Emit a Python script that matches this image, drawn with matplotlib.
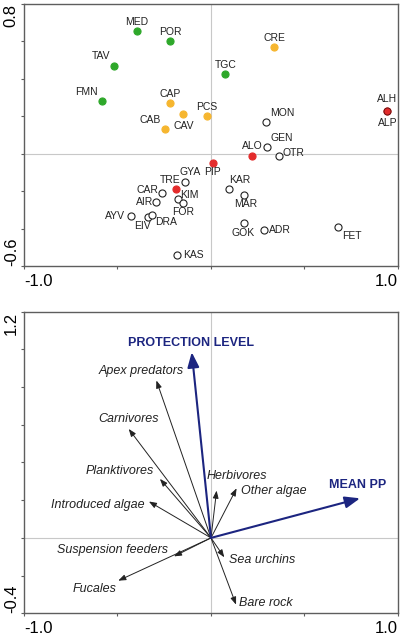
import matplotlib
matplotlib.use("Agg")
import matplotlib.pyplot as plt

plt.rcParams['font.family'] = ['Liberation Sans', 'DejaVu Sans']

# --- top panel: site scores ---
sites = ['MED', 'POR', 'TAV', 'FMN', 'TGC', 'CRE', 'CAP', 'CAV', 'PCS', 'CAB',
         'ALH', 'MON', 'GEN', 'ALO', 'OTR', 'PIP', 'GYA', 'TRE', 'CAR', 'KIM',
         'AIR', 'FOR', 'AYV', 'EIV', 'DRA', 'KAR', 'MAR', 'GOK', 'ADR', 'FET', 'KAS']
site_x = [-0.397, -0.219, -0.520, -0.585, 0.077, 0.337, -0.219, -0.151, -0.020, -0.248,
          0.943, 0.294, 0.299, 0.219, 0.365, 0.009, -0.137, -0.186, -0.260, -0.178,
          -0.292, -0.150, -0.426, -0.335, -0.314, 0.095, 0.176, 0.176, 0.282, 0.677, -0.180]
site_y = [0.658, 0.603, 0.471, 0.282, 0.426, 0.571, 0.271, 0.214, 0.203, 0.132,
          0.228, 0.170, 0.036, -0.011, -0.011, -0.052, -0.151, -0.189, -0.208, -0.242,
          -0.256, -0.262, -0.335, -0.337, -0.328, -0.187, -0.221, -0.371, -0.410, -0.390, -0.542]
site_group = ['g', 'g', 'g', 'g', 'g', 'o', 'o', 'o', 'o', 'o',
              'r', 'w', 'w', 'r', 'w', 'r', 'w', 'r', 'w', 'w',
              'w', 'w', 'w', 'w', 'w', 'w', 'w', 'w', 'w', 'w', 'w']

# --- bottom panel: variable vectors ---
species = ['Apex predators', 'Carnivores', 'Planktivores', 'Introduced algae', 'Herbivores',
           'Other algae', 'Suspension feeders', 'Fucales', 'Sea urchins', 'Bare rock']
species_x = [-0.292, -0.440, -0.273, -0.332, 0.030, 0.137, -0.198, -0.496, 0.071, 0.134]
species_y = [0.835, 0.578, 0.313, 0.193, 0.251, 0.263, -0.098, -0.227, -0.103, -0.354]
env = ['PROTECTION LEVEL', 'MEAN PP']
env_x = [-0.103, 0.797]
env_y = [0.985, 0.210]

# styling / label placement (offsets in pixels)
group_style = {
    'g': dict(facecolor='#2ea82a', edgecolor='#2ea82a'),
    'o': dict(facecolor='#f6b62f', edgecolor='#f6b62f'),
    'r': dict(facecolor='#e32b2b', edgecolor='#e32b2b'),
    'w': dict(facecolor='white', edgecolor='#222222'),
}
site_offsets = {
    'MED': (0, 9), 'POR': (0, 9), 'TAV': (-13, 10), 'FMN': (-15, 9), 'TGC': (0, 9),
    'CRE': (0, 9), 'CAP': (0, 9), 'CAV': (1, -12), 'PCS': (0, 9), 'CAB': (-14, 9),
    'ALH': (0, 12), 'MON': (16, 9), 'GEN': (15, 9), 'ALO': (0, 10), 'OTR': (14, 3),
    'PIP': (0, -9), 'GYA': (5, 10), 'TRE': (-6, 9), 'CAR': (-15, 3), 'KIM': (12, 4),
    'AIR': (-12, 0), 'FOR': (0, -9), 'AYV': (-16, 0), 'EIV': (-6, -9), 'DRA': (14, -7),
    'KAR': (11, 9), 'MAR': (2, -9), 'GOK': (-1, -10), 'ADR': (16, 0), 'FET': (14, -9),
    'KAS': (16, 0),
}
species_offsets = {
    'Apex predators': (-15, 10, 'center'), 'Carnivores': (0, 10, 'center'),
    'Planktivores': (-6, 8, 'right'), 'Introduced algae': (-4, -3, 'right'),
    'Herbivores': (-10, 15, 'left'), 'Other algae': (4, -3, 'left'),
    'Suspension feeders': (-6, 6, 'right'), 'Fucales': (-2, -8, 'right'),
    'Sea urchins': (5, -3, 'left'), 'Bare rock': (3, 2, 'left'),
}
env_offsets = {'PROTECTION LEVEL': (-1, 9), 'MEAN PP': (-2, 13)}
navy = '#1c2580'
spine_col = '#5e5e5e'


def style_axes(ax, ylim, yticks, ylabels):
    ax.set_xlim(-1.0, 1.0)
    ax.set_ylim(*ylim)
    ax.axhline(0, color='#c8c8c8', lw=0.8, zorder=0)
    ax.axvline(0, color='#c8c8c8', lw=0.8, zorder=0)
    for sp in ax.spines.values():
        sp.set_color(spine_col)
        sp.set_linewidth(1.0)
    ax.set_xticks([-1.0, -0.5, 0.0, 0.5, 1.0])
    ax.set_xticklabels(['-1.0', '', '', '', '1.0'])
    ax.set_yticks(yticks)
    ax.set_yticklabels(ylabels)
    ax.tick_params(length=2.5, width=0.8, color=spine_col, labelsize=12, pad=3)
    ax.tick_params(axis='y', pad=1.2)
    xl = ax.get_xticklabels()
    xl[0].set_ha('left')
    xl[-1].set_ha('right')
    yl = ax.get_yticklabels()
    for t in yl:
        t.set_rotation(90)
    yl[0].set_va('bottom')
    yl[-1].set_va('top')


fig = plt.figure(figsize=(4.04, 6.36), dpi=100)
ax1 = fig.add_axes([0.0594, 0.5818, 0.9257, 0.412])
ax2 = fig.add_axes([0.0594, 0.0357, 0.9257, 0.4742])

# top panel
for name, x, y, g in zip(sites, site_x, site_y, site_group):
    st = group_style[g]
    ax1.scatter([x], [y], s=26, facecolor=st['facecolor'], edgecolor=st['edgecolor'],
                linewidths=0.8, zorder=3)
    dx, dy = site_offsets[name]
    ax1.annotate(name, (x, y), xytext=(dx, dy), textcoords='offset pixels',
                 ha='center', va='center', fontsize=7.5, color='#222222')
# ALP shares the ALH position
ax1.annotate('ALP', (site_x[sites.index('ALH')], site_y[sites.index('ALH')]),
             xytext=(0, -12), textcoords='offset pixels', ha='center', va='center',
             fontsize=7.5, color='#222222')
ax1.scatter([site_x[sites.index('ALH')]], [site_y[sites.index('ALH')]], s=26,
            facecolor='#e32b2b', edgecolor='#5a1010', linewidths=0.6, zorder=4)
style_axes(ax1, (-0.6, 0.8), [-0.6, -0.4, -0.2, 0.0, 0.2, 0.4, 0.6, 0.8],
           ['-0.6', '', '', '', '', '', '', '0.8'])

# bottom panel
for name, x, y in zip(species, species_x, species_y):
    ax2.annotate('', xy=(x, y), xytext=(0, 0),
                 arrowprops=dict(arrowstyle='-|>,head_length=0.45,head_width=0.17',
                                 color='#222222', lw=0.7, shrinkA=0, shrinkB=0,
                                 mutation_scale=10))
    dx, dy, ha = species_offsets[name]
    ax2.annotate(name, (x, y), xytext=(dx, dy), textcoords='offset pixels',
                 ha=ha, va='center', fontsize=9, style='italic', color='#222222')
for name, x, y in zip(env, env_x, env_y):
    ax2.annotate('', xy=(x, y), xytext=(0, 0),
                 arrowprops=dict(arrowstyle='-|>,head_length=0.9,head_width=0.35',
                                 color=navy, lw=1.5, shrinkA=0, shrinkB=0,
                                 mutation_scale=10))
    dx, dy = env_offsets[name]
    ax2.annotate(name, (x, y), xytext=(dx, dy), textcoords='offset pixels',
                 ha='center', va='center', fontsize=9, fontweight='bold', color=navy)
style_axes(ax2, (-0.4, 1.2), [-0.4, -0.2, 0.0, 0.2, 0.4, 0.6, 0.8, 1.0, 1.2],
           ['-0.4', '', '', '', '', '', '', '', '1.2'])

fig.savefig('out.png', dpi=100)
